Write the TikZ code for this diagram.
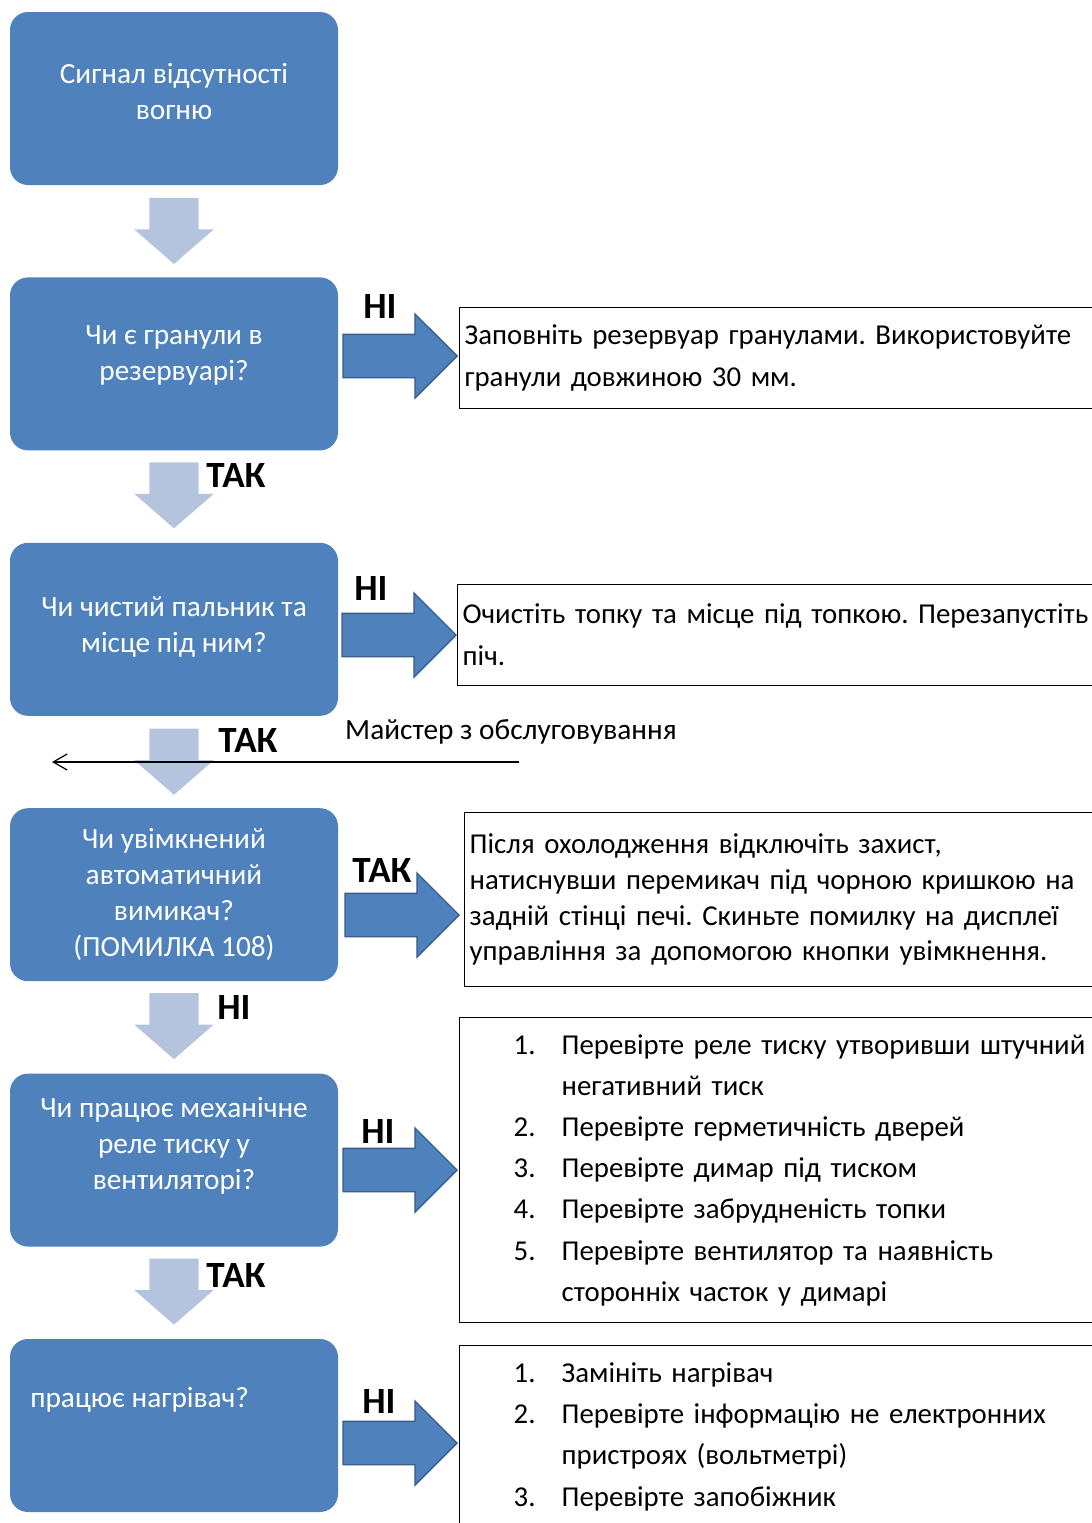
\documentclass[tikz,border=0pt]{standalone}
\usepackage{fontspec}
\setmainfont{Carlito}
\usepackage{tikz}
\usetikzlibrary{shapes.arrows, arrows.meta, positioning, calc}
\definecolor{boxblue}{RGB}{79, 129, 189}
\definecolor{edgeblue}{RGB}{56, 93, 138}
\definecolor{paleblue}{RGB}{180, 196, 222}
\newcommand{\stepnum}[1]{\hspace*{49pt}\makebox[48pt][l]{#1}}
\newcommand{\stepcont}{\hspace*{97pt}}
\frenchspacing
\tikzset{
    bluebox/.style = {rectangle, fill=boxblue, text=white, rounded corners=18pt, minimum width=328pt, minimum height=173pt, align=center, font=\fontsize{29.3}{36}\selectfont},
    notebox/.style = {rectangle, draw=black, line width=1.3pt, fill=white, anchor=north west, text width=640pt, align=left, inner xsep=5pt, font=\fontsize{28.8}{42}\selectfont},
    downarrow/.style = {single arrow, fill=paleblue, rotate=-90, anchor=tip, minimum height=66pt, inner xsep=0pt, inner ysep=24.5pt, single arrow head extend=15pt, single arrow tip angle=98},
    sidearrow/.style = {single arrow, fill=boxblue, draw=edgeblue, line width=1.3pt, anchor=tip, minimum height=114pt, inner xsep=0pt, inner ysep=21pt, single arrow head extend=20.5pt, single arrow tip angle=90},
    answer/.style = {fill=white, font=\fontsize{37}{40}\selectfont\bfseries, inner sep=2pt},
    backline/.style = {line width=1.2pt, -{Straight Barb[length=14pt, width=16pt, line width=1.2pt]}}
}

\begin{document}
\begin{tikzpicture}[x=1pt, y=-1pt, node distance=92pt]
\useasboundingbox (0,0) rectangle (1092,1523);
\clip (0,0) rectangle (1092,1523);

% questions
\node (b1) [bluebox, text depth=14pt] at (174,98.5) {Сигнал відсутності\\вогню};
\node (b2) [bluebox, text depth=21pt, below=of b1] {Чи є гранули в\\резервуарі?};
\node (b3) [bluebox, text depth=10pt, below=of b2] {Чи чистий пальник та\\місце під ним?};
\node (b4) [bluebox, below=of b3] {Чи увімкнений\\автоматичний\\вимикач?\\(ПОМИЛКА 108)};
\node (b5) [bluebox, text depth=34pt, below=of b4] {Чи працює механічне\\реле тиску у\\вентиляторі?};
\node (b6) [bluebox, below=of b5] {};
\node (b6text) [anchor=west, text=white, font=\fontsize{29.3}{36}\selectfont] at ([xshift=17pt, yshift=26pt]b6.west) {працює нагрівач?};

% actions
\node (r1) [notebox, minimum height=101pt] at (459,307) {Заповніть резервуар гранулами. Використовуйте\\гранули довжиною 30 мм.};
\node (r2) [notebox, minimum height=101pt] at (457,584) {Очистіть топку та місце під топкою. Перезапустіть\\піч.};
\node (r3) [notebox, minimum height=174pt, font=\fontsize{28.8}{35.7}\selectfont] at (464,812) {Після охолодження відключіть захист,\\натиснувши перемикач під чорною кришкою на\\задній стінці печі. Скиньте помилку на дисплеї\\управління за допомогою кнопки увімкнення.};
\node (r4) [notebox, minimum height=305pt, font=\fontsize{28.8}{41.2}\selectfont] at (459,1017) {\stepnum{1.}Перевірте реле тиску утворивши штучний\\
\stepcont негативний тиск\\
\stepnum{2.}Перевірте герметичність дверей\\
\stepnum{3.}Перевірте димар під тиском\\
\stepnum{4.}Перевірте забрудненість топки\\
\stepnum{5.}Перевірте вентилятор та наявність\\
\stepcont сторонніх часток у димарі};
\node (r5) [notebox, minimum height=182pt, font=\fontsize{28.8}{41.3}\selectfont] at (459,1345) {\stepnum{1.}Замініть нагрівач\\
\stepnum{2.}Перевірте інформацію не електронних\\
\stepcont пристроях (вольтметрі)\\
\stepnum{3.}Перевірте запобіжник};

% block arrows
\node (d1) [downarrow] at ([yshift=13pt]b2.north) {};
\node (d2) [downarrow] at ([yshift=14pt]b3.north) {};
\node (d3) [downarrow] at ([yshift=13pt]b4.north) {};
\node (d4) [downarrow] at ([yshift=14pt]b5.north) {};
\node (d5) [downarrow] at ([yshift=14pt]b6.north) {};
\node (s1) [sidearrow] at (458,356) {};
\node (s2) [sidearrow] at (457,635) {};
\node (s3) [sidearrow] at (460,915) {};
\node (s4) [sidearrow] at (458,1170) {};
\node (s5) [sidearrow] at (458,1443) {};

% answers
\node (a1) [answer] at (380,306) {НІ};
\node (a2) [answer] at (236,475) {ТАК};
\node (a3) [answer] at (371,588) {НІ};
\node (a4) [answer] at (248,740) {ТАК};
\node (a5) [answer] at (382,870) {ТАК};
\node (a6) [answer] at (234,1007) {НІ};
\node (a7) [answer] at (378,1131) {НІ};
\node (a8) [answer] at (236,1275) {ТАК};
\node (a9) [answer] at (379,1401) {НІ};

% service
\node (master) [anchor=west, font=\fontsize{29.3}{34}\selectfont, inner sep=0pt] at (345,732) {Майстер з обслуговування};
\coordinate (mstart) at (519,762);
\coordinate (mend) at (52,762);
\draw [backline] (mstart) -- (mend);
\end{tikzpicture}
\end{document}
